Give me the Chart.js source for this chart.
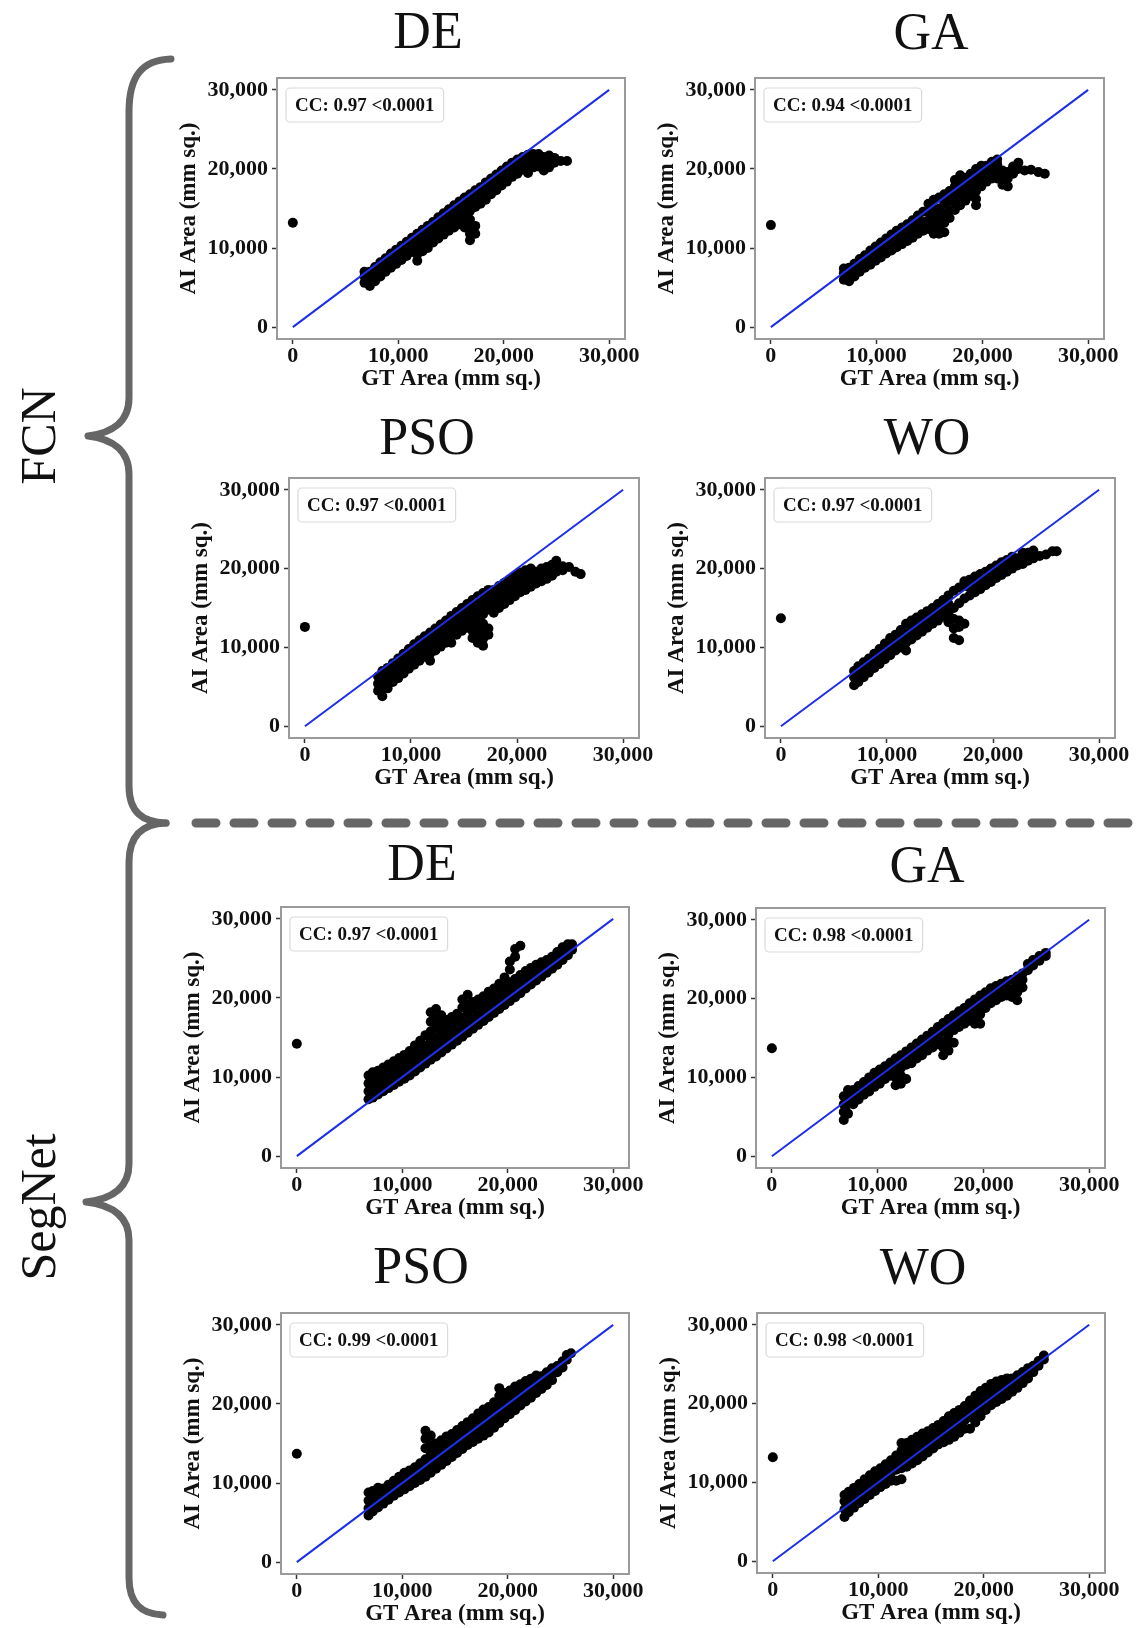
<!DOCTYPE html>
<html>
<head>
<meta charset="utf-8">
<script src="https://cdn.jsdelivr.net/npm/chart.js@4.4.1/dist/chart.umd.min.js"></script>
<style>
  html, body { margin: 0; padding: 0; background: #fff; }
  #page { position: relative; width: 1137px; height: 1628px; overflow: hidden;
          font-family: "Liberation Serif", "Times New Roman", serif; }
  canvas { position: absolute; }
  .title { position: absolute; font-size: 52px; line-height: 52px; color: #111;
           transform: translate(-50%, -50%); white-space: nowrap; }
  .group { position: absolute; font-size: 50px; line-height: 50px; color: #111;
           transform: translate(-50%, -50%) rotate(-90deg); white-space: nowrap; }
  svg { position: absolute; left: 0; top: 0; }
</style>
</head>
<body>
<div id="page">
  <svg width="1137" height="1628">
    <g fill="none" stroke="#666" stroke-width="7" stroke-linecap="round" stroke-linejoin="round">
      <path d="M 171 59 C 142 60, 129 76, 129 112 L 129 398 C 129 422, 112 433, 88 436 C 112 439, 129 450, 129 474 L 129 786 C 129 812, 142 822, 166 823"/>
      <path d="M 166 823 C 142 824, 129 836, 129 862 L 129 1164 C 129 1188, 112 1199, 86 1202 C 112 1205, 129 1216, 129 1240 L 129 1578 C 129 1604, 142 1614, 163 1615"/>
    </g>
    <path d="M 196 823 L 1137 823" stroke="#666" stroke-width="9" stroke-dasharray="20 18" stroke-linecap="round"/>
  </svg>
</div>
<script>
const FONT = '"Liberation Serif", "Times New Roman", serif';

const groupNames = ['FCN', 'SegNet'];
const panelTitles = ['DE', 'GA', 'PSO', 'WO', 'DE', 'GA', 'PSO', 'WO'];
const ccLabels = [
  'CC: 0.97 <0.0001', 'CC: 0.94 <0.0001', 'CC: 0.97 <0.0001', 'CC: 0.97 <0.0001',
  'CC: 0.97 <0.0001', 'CC: 0.98 <0.0001', 'CC: 0.99 <0.0001', 'CC: 0.98 <0.0001'
];
const axisTicks = [0, 10000, 20000, 30000];
const axisMin = -1500, axisMax = 31500;
const identityLine = [0, 30000];

// the lone point at GT = 0 in each panel (AI area, thousands of mm sq.)
const zeroGtPoints = [13.2, 12.9, 12.6, 13.7, 14.2, 13.7, 13.7, 13.2];

// point clouds: [GT, [AI, AI, ...]], thousands of mm sq.
const fcnDE = [
  [6.8,[5.6,6.4,7.0]],[7.3,[5.2,6.1,7.0]],[7.8,[5.8,6.7,7.6]],[8.3,[6.4,7.3,8.2]],[8.8,[7.0,7.8,8.7]],
  [9.3,[7.5,8.4,9.3]],[9.8,[8.0,8.9,9.8]],[10.3,[8.5,9.4,10.3]],[10.8,[9.0,9.9,10.8]],[11.3,[9.5,10.4,11.3]],
  [11.8,[8.4,9.2,10.0,10.9,11.8]],[12.3,[9.6,10.4,11.4,12.3]],[12.8,[10.0,10.9,11.9,12.8]],
  [13.3,[10.7,11.5,12.4,13.3]],[13.8,[11.2,12.0,12.9,13.9]],[14.3,[11.7,12.6,13.5,14.4]],
  [14.8,[12.2,13.1,14.0,14.9]],[15.3,[12.6,13.5,14.4,15.4]],[15.8,[13.0,13.9,14.9,15.9]],
  [16.3,[12.6,13.5,14.4,15.4,16.4]],[16.8,[11.0,11.8,12.6,13.6,14.7,15.8,16.8]],[17.3,[11.8,12.8,15.2,16.2,17.3]],
  [17.8,[15.6,16.6,17.7]],[18.3,[16.1,17.2,18.3]],[18.8,[16.8,17.8,18.8]],[19.3,[17.3,18.3,19.3]],
  [19.8,[17.9,18.9,19.8]],[20.3,[18.4,19.4,20.3]],[20.8,[19.0,19.9,20.8]],[21.3,[19.4,20.3,21.2]],
  [21.8,[19.9,20.7,21.5]],[22.3,[19.5,20.4,21.3,21.8]],[22.8,[20.2,21.1,21.9]],[23.3,[20.3,21.2,21.9]],
  [23.8,[19.8,20.7,21.5]],[24.3,[20.2,21.1,21.7]],[24.8,[20.8,21.4]],[25.4,[21.0]],[26.0,[21.0]]
];
const fcnGA = [
  [6.9,[6.0,6.8,7.4]],[7.4,[5.8,6.6,7.5]],[7.9,[6.4,7.2,8.0]],[8.4,[7.0,7.8,8.6]],[8.9,[7.5,8.3,9.1]],
  [9.4,[7.9,8.8,9.7]],[9.9,[8.4,9.3,10.2]],[10.4,[8.8,9.7,10.7]],[10.9,[9.3,10.2,11.2]],[11.4,[9.7,10.7,11.7]],
  [11.9,[10.1,11.1,12.2]],[12.4,[10.5,11.5,12.6]],[12.9,[10.9,11.9,13.0]],[13.4,[11.3,12.4,13.5]],
  [13.9,[11.8,12.9,14.1]],[14.4,[12.2,13.3,14.6]],[14.9,[12.4,13.5,14.6,15.6]],[15.4,[11.8,12.8,13.8,14.9,16.1]],
  [15.9,[11.8,12.8,13.9,15.0,16.4]],[16.4,[12.0,13.2,14.4,15.6,16.8]],[16.9,[13.8,14.8,16.0,17.2]],
  [17.4,[14.8,15.8,16.8,17.8,18.6]],[17.9,[15.4,16.4,17.4,18.4,19.2]],[18.4,[16.0,17.0,18.0,18.9]],
  [18.9,[16.6,17.6,18.6,19.4]],[19.4,[15.4,16.2,17.2,18.2,19.2,20.0]],[19.9,[17.8,18.8,19.6,20.4]],
  [20.4,[18.4,19.4,20.4]],[20.9,[18.8,19.8,20.9]],[21.4,[18.8,19.6,20.6,21.2]],[21.9,[18.0,18.9,19.8]],
  [22.4,[17.8,18.8,19.6]],[22.9,[19.4,20.3]],[23.4,[20.0,20.8]],[24.0,[19.8]],[24.6,[19.9]],[25.3,[19.6]],[25.9,[19.4]]
];
const fcnPSO = [
  [6.9,[4.5,5.4,6.3]],[7.3,[3.8,4.6,5.5,6.4,7.0]],[7.8,[4.8,5.7,6.6,7.4]],[8.3,[5.6,6.4,7.2,8.0]],
  [8.8,[6.1,6.9,7.8,8.6]],[9.3,[6.7,7.5,8.4,9.2]],[9.8,[7.3,8.1,8.9,9.8]],[10.3,[7.8,8.6,9.5,10.4]],
  [10.8,[8.3,9.1,10.0,10.9]],[11.3,[8.8,9.6,10.5,11.4]],[11.8,[8.3,9.2,10.1,11.0,11.9]],
  [12.3,[9.6,10.5,11.5,12.4]],[12.8,[10.1,11.0,12.0,12.9]],[13.3,[10.6,11.5,12.5,13.4]],
  [13.8,[10.6,11.4,12.2,13.1,14.0]],[14.3,[11.6,12.5,13.5,14.5]],[14.8,[12.1,13.0,14.0,15.0]],
  [15.3,[12.5,13.5,14.5,15.5]],[15.8,[11.2,12.1,13.0,14.0,15.0,16.0]],[16.3,[10.6,11.5,12.4,13.6,14.6,15.6,16.5]],
  [16.8,[10.2,11.1,12.0,13.0,14.2,15.2,16.2,16.9]],[17.3,[11.6,12.4,14.8,15.8,16.8,17.3]],
  [17.8,[14.4,15.3,16.3,17.3]],[18.3,[15.0,15.9,16.9,17.8]],[18.8,[15.5,16.4,17.3,18.2]],
  [19.3,[16.0,16.9,17.8,18.6]],[19.8,[16.5,17.4,18.3,19.1]],[20.3,[17.0,17.9,18.8,19.5]],
  [20.8,[17.3,18.2,19.1,19.8]],[21.3,[17.7,18.5,19.3,20.0]],[21.8,[18.1,18.9,19.6]],[22.3,[18.4,19.2,20.0]],
  [22.8,[18.7,19.5,20.2]],[23.3,[19.1,19.9,20.5]],[23.7,[19.6,20.3,21.0]],[24.3,[19.8,20.3]],
  [24.9,[20.2]],[25.5,[19.6]],[26.0,[19.3]]
];
const fcnWO = [
  [6.9,[5.2,6.2,7.0]],[7.3,[5.6,6.6,7.6]],[7.8,[6.2,7.2,8.1]],[8.3,[6.8,7.8,8.6]],[8.8,[7.4,8.4,9.2]],
  [9.3,[7.9,9.0,9.8]],[9.8,[8.5,9.6,10.5]],[10.3,[9.0,10.2,11.2]],[10.8,[9.6,10.7,11.6]],[11.3,[10.0,11.2,12.2]],
  [11.8,[9.6,10.6,11.8,13.0]],[12.3,[11.0,12.2,13.4]],[12.8,[11.5,12.7,13.8]],[13.3,[12.0,13.2,14.2]],
  [13.8,[12.5,13.6,14.6]],[14.3,[13.0,14.1,15.0]],[14.8,[13.4,14.6,15.5]],[15.3,[13.9,15.0,16.0]],
  [15.8,[13.2,14.3,15.5,16.6]],[16.3,[11.2,12.4,13.6,15.0,17.2]],[16.8,[10.9,12.6,13.4,15.6,17.6]],
  [17.3,[13.0,16.2,17.8,18.4]],[17.8,[16.6,17.6,18.6]],[18.3,[17.0,18.0,19.0]],[18.8,[17.4,18.4,19.3]],
  [19.3,[17.9,18.8,19.6]],[19.8,[18.3,19.2,20.0]],[20.3,[18.8,19.7,20.4]],[20.8,[19.2,20.1,20.8]],
  [21.3,[19.6,20.5,21.1]],[21.8,[20.0,20.9,21.5]],[22.3,[20.4,21.3]],[22.8,[20.6,21.6,22.0]],
  [23.3,[21.0,22.0]],[23.8,[21.3,22.3]],[24.4,[21.6]],[25.0,[21.8]],[25.6,[22.2]],[26.0,[22.2]]
];
const segDE = [
  [6.8,[7.2,8.2,9.2,10.2]],[7.2,[7.4,8.4,9.4,10.6]],[7.7,[7.8,8.8,9.8,10.8]],[8.2,[8.2,9.2,10.2,11.2]],
  [8.7,[8.6,9.6,10.6,11.6]],[9.2,[9.0,10.0,11.0,12.0]],[9.7,[9.4,10.4,11.4,12.4]],[10.2,[9.8,10.8,11.8,12.8]],
  [10.7,[10.2,11.3,12.4,13.3]],[11.2,[10.7,11.8,12.9,14.0]],[11.7,[11.2,12.3,13.4,14.6]],
  [12.2,[11.7,12.8,14.0,15.3]],[12.7,[12.2,13.4,14.6,15.8,17.0,18.2]],[13.2,[12.6,13.8,15.0,16.2,17.4,18.6]],
  [13.7,[13.1,14.3,15.5,16.7,17.8]],[14.2,[13.6,14.8,16.0,17.2]],[14.7,[14.1,15.3,16.5,17.6]],
  [15.2,[14.6,15.8,17.0,18.0]],[15.7,[15.1,16.3,17.5,18.8,19.8]],[16.2,[15.6,16.8,18.0,19.2,20.4]],
  [16.7,[16.1,17.3,18.5,19.5]],[17.2,[16.6,17.8,19.0,19.8]],[17.7,[17.1,18.3,19.4,20.2]],
  [18.2,[17.6,18.8,19.9,20.8]],[18.7,[18.1,19.3,20.4,21.2]],[19.2,[18.6,19.8,20.9,21.8]],
  [19.7,[19.1,20.3,21.4,22.6]],[20.2,[19.6,20.8,22.0,23.6,24.6]],[20.7,[20.1,21.3,22.4,25.2,26.2]],
  [21.2,[20.6,21.8,22.9,26.6]],[21.7,[21.2,22.3,23.4]],[22.2,[21.7,22.8,23.8]],[22.7,[22.2,23.2,24.2]],
  [23.2,[22.7,23.6,24.5]],[23.7,[23.2,24.0,24.8]],[24.2,[23.7,24.4,25.2]],[24.7,[24.2,25.0,25.8]],
  [25.2,[24.8,25.6,26.4]],[25.7,[25.4,26.2,26.8]],[26.1,[26.1,26.8]]
];
const segGA = [
  [6.8,[4.6,5.6,6.6,7.6]],[7.2,[5.4,6.6,7.6,8.4]],[7.7,[6.6,7.6,8.4]],[8.2,[7.2,8.2,8.9]],[8.7,[7.8,8.6,9.4]],
  [9.2,[8.2,9.2,10.0]],[9.7,[8.8,9.8,10.6]],[10.2,[9.2,10.2,11.0]],[10.7,[9.8,10.6,11.4]],[11.2,[10.2,11.1,11.9]],
  [11.7,[9.0,10.0,10.8,11.6,12.4]],[12.2,[9.2,10.2,11.2,12.0,12.8]],[12.7,[9.8,11.6,12.6,13.3]],
  [13.2,[11.8,13.0,13.8]],[13.7,[12.4,13.4,14.3]],[14.2,[12.8,13.8,14.8]],[14.7,[13.4,14.4,15.3]],
  [15.2,[13.8,14.9,15.8]],[15.7,[14.2,15.4,16.4]],[16.2,[12.8,13.8,14.6,15.8,16.9]],
  [16.7,[13.4,14.4,15.4,16.4,17.4]],[17.2,[14.4,16.0,17.0,17.9]],[17.7,[16.4,17.4,18.4]],
  [18.2,[16.8,17.8,18.8]],[18.7,[17.2,18.4,19.4]],[19.2,[16.8,17.8,18.8,19.9]],[19.7,[16.8,18.0,19.2,20.4]],
  [20.2,[18.8,19.8,20.8]],[20.7,[19.4,20.4,21.3]],[21.2,[19.8,20.8,21.6]],[21.7,[20.2,21.2,21.9]],
  [22.2,[20.4,21.4,22.2]],[22.7,[20.2,21.2,22.4]],[23.2,[19.8,20.8,21.8,22.8]],[23.7,[21.4,22.4,23.2]],
  [24.2,[23.6,24.4]],[24.7,[24.2,24.9]],[25.3,[24.8,25.4]],[25.9,[25.4,25.8]]
];
const segPSO = [
  [6.8,[5.9,6.8,7.8,8.8]],[7.2,[6.4,7.4,8.4,9.0]],[7.7,[6.9,7.9,8.8,9.4]],[8.2,[7.4,8.4,9.3]],
  [8.7,[7.9,8.9,9.8]],[9.2,[8.4,9.4,10.3]],[9.7,[8.8,9.8,10.8]],[10.2,[9.2,10.2,11.3]],[10.7,[9.6,10.6,11.6]],
  [11.2,[10.0,11.0,12.0]],[11.7,[10.4,11.5,12.5]],[12.2,[10.8,12.0,13.0,14.4,15.6,16.6]],
  [12.7,[11.3,12.5,13.6,14.8,16.0]],[13.2,[11.8,13.0,14.0,15.0]],[13.7,[12.3,13.4,14.4,15.4]],
  [14.2,[12.8,13.9,14.9,15.9]],[14.7,[13.3,14.4,15.4,16.2]],[15.2,[13.8,14.9,15.9,16.7]],
  [15.7,[14.3,15.4,16.4,17.2]],[16.2,[14.8,15.9,16.9,17.7]],[16.7,[15.2,16.3,17.4,18.2]],
  [17.2,[15.6,16.8,17.9,18.8]],[17.7,[16.0,17.2,18.3,19.3]],[18.2,[16.4,17.6,18.8,19.6]],
  [18.7,[17.0,18.1,19.2,20.2]],[19.2,[17.6,18.6,19.8,21.0,22.0]],[19.7,[18.2,19.2,20.3,21.4]],
  [20.2,[18.7,19.7,20.8,21.7]],[20.7,[19.2,20.2,21.3,22.2]],[21.2,[19.8,20.7,21.7,22.5]],
  [21.7,[20.3,21.2,22.1,22.9]],[22.2,[20.8,21.7,22.6,23.2]],[22.7,[21.4,22.2,23.0,23.6]],
  [23.2,[21.9,22.7,23.5]],[23.7,[22.4,23.2,24.0]],[24.2,[23.0,23.7,24.5]],[24.7,[24.0,24.8]],
  [25.2,[24.6,25.4]],[25.6,[25.6,26.2]],[26.0,[26.4]]
];
const segWO = [
  [6.8,[5.6,6.6,7.6,8.4]],[7.2,[6.2,7.2,8.2,8.8]],[7.7,[6.8,7.8,8.8,9.3]],[8.2,[7.4,8.4,9.4,9.8]],
  [8.7,[7.9,8.9,9.9,10.4]],[9.2,[8.4,9.4,10.4,10.9]],[9.7,[8.9,9.9,10.8,11.4]],[10.2,[9.4,10.4,11.3,11.8]],
  [10.7,[9.8,10.8,11.8,12.3]],[11.2,[10.2,11.2,12.2,12.8]],[11.7,[10.2,11.6,12.6,13.4]],
  [12.2,[10.4,11.8,12.8,14.0,15.0]],[12.7,[12.0,13.2,14.2,15.0]],[13.2,[12.4,13.6,14.6,15.4]],
  [13.7,[12.8,14.0,15.0,15.8]],[14.2,[13.3,14.4,15.4,16.2]],[14.7,[13.8,14.9,15.8,16.5]],
  [15.2,[14.3,15.4,16.3,16.9]],[15.7,[14.8,15.8,16.7,17.3]],[16.2,[15.1,16.2,17.2,17.8]],
  [16.7,[15.4,16.6,17.6,18.4]],[17.2,[15.8,17.0,18.0,18.8]],[17.7,[16.3,17.4,18.5,19.2]],
  [18.2,[16.8,17.9,18.9,19.7]],[18.7,[16.8,18.3,19.4,20.4]],[19.2,[17.6,18.8,19.9,21.0]],
  [19.7,[18.4,19.4,20.4,21.6]],[20.2,[19.2,20.0,21.0,22.0]],[20.7,[19.8,20.6,21.6,22.5]],
  [21.2,[20.2,21.0,22.0,22.8]],[21.7,[20.6,21.5,22.4,23.0]],[22.2,[21.0,21.9,22.8,23.2]],
  [22.7,[21.5,22.4,23.2]],[23.2,[22.0,22.8,23.6]],[23.7,[22.6,23.3,24.0]],[24.2,[23.2,23.9,24.5]],
  [24.7,[24.0,24.8]],[25.2,[24.8,25.4]],[25.7,[25.6,26.1]]
];
const clouds = [fcnDE, fcnGA, fcnPSO, fcnWO, segDE, segGA, segPSO, segWO];

// page layout: plot-area boxes [left, top, right, bottom] and title centres
const boxes = [
  [277, 78, 625, 339], [755, 78, 1104, 339],
  [289, 478, 639, 738], [765, 478, 1115, 738],
  [281, 907, 629, 1168], [756, 908, 1105, 1168],
  [281, 1313, 629, 1574], [757, 1313, 1105, 1573]
];
const titleCenters = [[428, 31], [931, 32], [427, 437], [927, 437], [422, 863], [927, 865], [421, 1266], [923, 1267]];
const groupCenters = [[38, 436], [38, 1207]];

const page = document.getElementById('page');

groupNames.forEach((g, i) => {
  const d = document.createElement('div');
  d.className = 'group';
  d.textContent = g;
  d.style.left = groupCenters[i][0] + 'px';
  d.style.top = groupCenters[i][1] + 'px';
  page.appendChild(d);
});

const frameAndCC = {
  id: 'frameAndCC',
  afterDatasetsDraw(chart, args, opts) {
    const { ctx, chartArea: a } = chart;
    ctx.save();
    ctx.strokeStyle = '#9a9a9a';
    ctx.lineWidth = 2;
    ctx.strokeRect(a.left, a.top, a.right - a.left, a.bottom - a.top);

    ctx.font = 'bold 19px ' + FONT;
    const w = ctx.measureText(opts.text).width + 18, h = 34;
    const x = a.left + 9, y = a.top + 10;
    ctx.beginPath();
    ctx.roundRect(x, y, w, h, 4);
    ctx.fillStyle = 'rgba(255,255,255,0.9)';
    ctx.fill();
    ctx.strokeStyle = '#dadada';
    ctx.lineWidth = 1.2;
    ctx.stroke();
    ctx.fillStyle = '#111';
    ctx.textBaseline = 'middle';
    ctx.fillText(opts.text, x + 9, y + h / 2 + 1);
    ctx.restore();
  }
};

const padTop = 12, padRight = 34, yW = 110, xH = 66;
const tickFont = { family: FONT, size: 22, weight: 'bold', lineHeight: 1 };
const axisTitleFont = { family: FONT, size: 23, weight: 'bold' };
const fmt = v => Number(v).toLocaleString('en-US');
const gridOpts = { display: true, drawOnChartArea: false, drawTicks: true, tickLength: 5, tickColor: '#333', tickWidth: 1.5 };

panelTitles.forEach((t, i) => {
  const [L, T, R, B] = boxes[i];

  const title = document.createElement('div');
  title.className = 'title';
  title.textContent = t;
  title.style.left = titleCenters[i][0] + 'px';
  title.style.top = titleCenters[i][1] + 'px';
  page.appendChild(title);

  const canvas = document.createElement('canvas');
  canvas.width = (R - L) + yW + padRight;
  canvas.height = (B - T) + padTop + xH;
  canvas.style.left = (L - yW) + 'px';
  canvas.style.top = (T - padTop) + 'px';
  page.appendChild(canvas);

  const points = [{ x: 0, y: zeroGtPoints[i] * 1000 }];
  clouds[i].forEach(([gt, ais]) => ais.forEach(ai => points.push({ x: gt * 1000, y: ai * 1000 })));

  new Chart(canvas.getContext('2d'), {
    type: 'scatter',
    data: {
      datasets: [
        {
          data: identityLine.map(v => ({ x: v, y: v })),
          showLine: true,
          borderColor: '#1c2ee8',
          borderWidth: 2,
          pointRadius: 0,
          order: 0
        },
        {
          data: points,
          backgroundColor: '#000',
          borderWidth: 0,
          pointRadius: 5,
          order: 1
        }
      ]
    },
    options: {
      responsive: false,
      animation: false,
      events: [],
      layout: { padding: { left: 0, top: padTop, right: padRight, bottom: 0 } },
      plugins: {
        legend: { display: false },
        tooltip: { enabled: false },
        frameAndCC: { text: ccLabels[i] }
      },
      scales: {
        x: {
          type: 'linear', min: axisMin, max: axisMax,
          afterBuildTicks: s => { s.ticks = axisTicks.map(v => ({ value: v })); },
          afterFit: s => { s.height = xH; s.paddingLeft = 0; s.paddingRight = 0; },
          grid: gridOpts,
          border: { display: false },
          ticks: { font: tickFont, color: '#111', padding: 1, maxRotation: 0, autoSkip: false, callback: fmt },
          title: { display: true, text: 'GT Area (mm sq.)', font: axisTitleFont, color: '#111', padding: { top: 0, bottom: 12 } }
        },
        y: {
          type: 'linear', min: axisMin, max: axisMax,
          afterBuildTicks: s => { s.ticks = axisTicks.map(v => ({ value: v })); },
          afterFit: s => { s.width = yW; s.paddingTop = 0; s.paddingBottom = 0; },
          grid: gridOpts,
          border: { display: false },
          ticks: { font: tickFont, color: '#111', padding: 4, autoSkip: false, callback: fmt },
          title: { display: true, text: 'AI Area (mm sq.)', font: axisTitleFont, color: '#111', padding: { top: 8, bottom: 0 } }
        }
      }
    },
    plugins: [frameAndCC]
  });
});
</script>
</body>
</html>
